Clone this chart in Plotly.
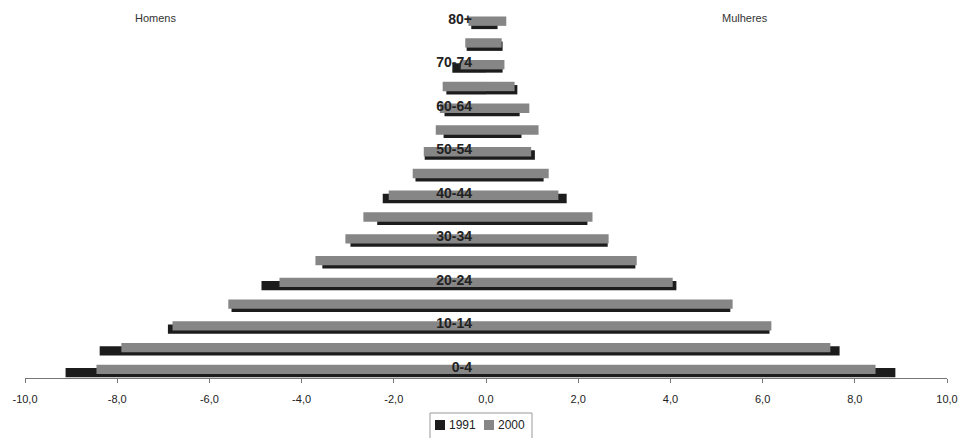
import plotly.graph_objects as go

ages = ["0-4", "5-9", "10-14", "15-19", "20-24", "25-29", "30-34", "35-39",
        "40-44", "45-49", "50-54", "55-59", "60-64", "65-69", "70-74", "75-79", "80+"]
men_1991 = [-9.12, -8.38, -6.90, -5.52, -4.87, -3.55, -2.94, -2.36, -2.24,
            -1.53, -1.33, -0.92, -0.90, -0.86, -0.73, -0.42, -0.32]
men_2000 = [-8.45, -7.91, -6.80, -5.59, -4.48, -3.70, -3.05, -2.66, -2.11,
            -1.59, -1.35, -1.09, -1.00, -0.94, -0.55, -0.45, -0.38]
women_1991 = [8.88, 7.67, 6.15, 5.30, 4.13, 3.24, 2.64, 2.20, 1.75,
              1.25, 1.06, 0.77, 0.73, 0.68, 0.36, 0.36, 0.25]
women_2000 = [8.45, 7.47, 6.19, 5.35, 4.05, 3.27, 2.66, 2.31, 1.57,
              1.36, 0.98, 1.14, 0.94, 0.62, 0.40, 0.34, 0.44]
labeled_ages = ["0-4", "10-14", "20-24", "30-34", "40-44", "50-54", "60-64", "70-74", "80+"]
x_ticks = [-10, -8, -6, -4, -2, 0, 2, 4, 6, 8, 10]
x_tick_text = ["-10,0", "-8,0", "-6,0", "-4,0", "-2,0", "0,0", "2,0", "4,0", "6,0", "8,0", "10,0"]
series_names = ["1991", "2000"]

C1991 = "#1c1c1c"
C2000 = "#868686"
W = 0.43

# plot area in pixels (for placing paper-referenced layout items)
PL, PR, PT, PB = 25, 947, 8, 378
def px(p):
    return (p - PL) / (PR - PL)
def py(p):
    return (PB - p) / (PB - PT)

fig = go.Figure()
fig.add_trace(go.Bar(y=ages, x=men_1991, orientation="h", name=series_names[0],
                     marker=dict(color=C1991, line=dict(width=0)),
                     width=W, offset=-0.47, showlegend=False))
fig.add_trace(go.Bar(y=ages, x=women_1991, orientation="h", name=series_names[0],
                     marker=dict(color=C1991, line=dict(width=0)),
                     width=W, offset=-0.47, showlegend=False))
fig.add_trace(go.Bar(y=ages, x=men_2000, orientation="h", name=series_names[1],
                     marker=dict(color=C2000, line=dict(width=0)),
                     width=W, offset=-0.32, showlegend=False))
fig.add_trace(go.Bar(y=ages, x=women_2000, orientation="h", name=series_names[1],
                     marker=dict(color=C2000, line=dict(width=0)),
                     width=W, offset=-0.32, showlegend=False))

# compact legend (box, keys, labels)
shapes = [
    dict(type="rect", xref="paper", yref="paper", x0=px(430), x1=px(532), y0=py(446), y1=py(413),
         line=dict(color="#999", width=1), fillcolor="white", layer="above"),
    dict(type="rect", xref="paper", yref="paper", x0=px(435), x1=px(445), y0=py(430), y1=py(420),
         line=dict(width=0), fillcolor=C1991, layer="above"),
    dict(type="rect", xref="paper", yref="paper", x0=px(484), x1=px(494), y0=py(430), y1=py(420),
         line=dict(width=0), fillcolor=C2000, layer="above"),
]
annotations = [
    dict(text="Homens", x=px(155), xref="paper", y=py(18), yref="paper",
         showarrow=False, font=dict(size=11, color="#333"), xanchor="center", yanchor="middle"),
    dict(text="Mulheres", x=px(745), xref="paper", y=py(18), yref="paper",
         showarrow=False, font=dict(size=11, color="#333"), xanchor="center", yanchor="middle"),
    dict(text=series_names[0], x=px(447), xref="paper", y=py(425), yref="paper",
         showarrow=False, font=dict(size=12, color="#222"), xanchor="left", yanchor="middle"),
    dict(text=series_names[1], x=px(496), xref="paper", y=py(425), yref="paper",
         showarrow=False, font=dict(size=12, color="#222"), xanchor="left", yanchor="middle"),
]

fig.update_layout(
    width=962, height=438,
    margin=dict(l=PL, r=962 - PR, t=PT, b=438 - PB, autoexpand=False),
    barmode="overlay",
    paper_bgcolor="white", plot_bgcolor="white",
    font=dict(family="Liberation Sans, Arial, sans-serif", color="#222"),
    showlegend=False,
    xaxis=dict(range=[-10, 10], tickmode="array", tickvals=x_ticks, ticktext=x_tick_text,
               showgrid=False, zeroline=False, showline=True, linecolor="#777",
               linewidth=1, ticks="outside", ticklen=4, tickcolor="#777",
               ticklabelstandoff=7,
               tickfont=dict(size=11, color="#222"), anchor="y"),
    yaxis=dict(type="category", categoryorder="array", categoryarray=ages,
               range=[-0.5, 16.5], anchor="free", position=0.5,
               tickmode="array", tickvals=labeled_ages, ticktext=labeled_ages,
               showgrid=False, zeroline=False, showline=False, ticks="",
               ticklabelstandoff=14, layer="above traces",
               tickfont=dict(size=14, color="#222", family="Liberation Sans, Arial, sans-serif",
                             weight="bold")),
    shapes=shapes,
    annotations=annotations,
)
fig.write_html("out.html")
